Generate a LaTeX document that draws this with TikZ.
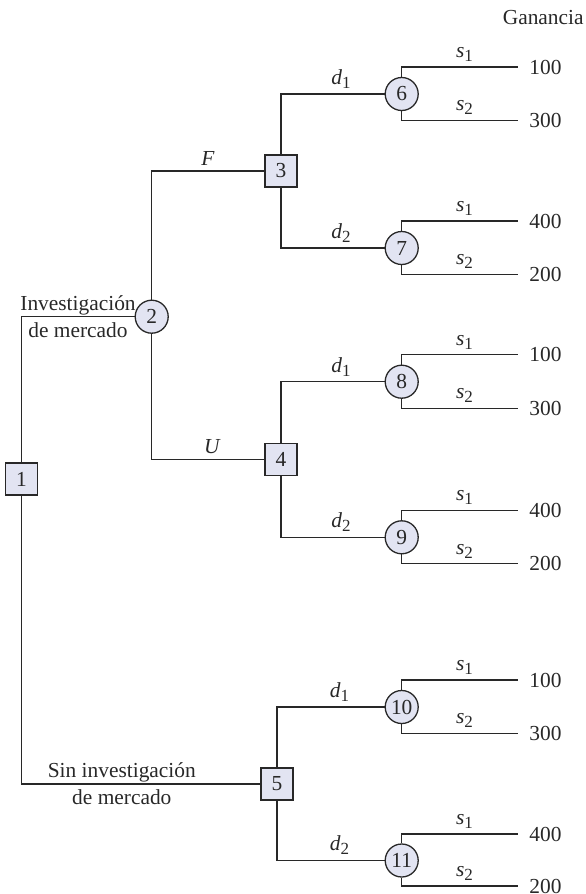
\documentclass[tikz,border=0pt]{standalone}
\usepackage{fontspec}
\setmainfont{Liberation Serif}
\definecolor{nodefill}{RGB}{226,228,242}
\definecolor{linegray}{RGB}{40,40,40}
\newcommand{\ssub}[2]{\textit{#1}\raisebox{-0.4ex}{\fontsize{8.5pt}{9pt}\selectfont #2}}
\begin{document}
\begin{tikzpicture}[
  x=0.5pt, y=-0.5pt,
  every node/.style={font=\fontsize{10.7pt}{13.5pt}\selectfont, text=linegray},
  decision/.style={rectangle, draw=linegray, fill=nodefill, line width=0.65pt, minimum size=16pt, inner sep=0pt},
  chance/.style={circle, draw=linegray, fill=nodefill, line width=0.65pt, minimum size=16.5pt, inner sep=0pt},
  payoff/.style={anchor=west, inner ysep=0pt, inner xsep=5.5pt},
  lbl/.style={above, inner sep=2.5pt},
  branch/.style={draw=linegray, line width=0.65pt},
  ]
 \useasboundingbox (0,0) rectangle (585,894);
 % decision and chance nodes
 \node [decision] (n1) at (21.5,479) {1};
 \node [chance] (n2) at (151.7,316.7) {2};
 \node [decision] (n3) at (281,171) {3};
 \node [decision] (n4) at (281,459.5) {4};
 \node [decision] (n5) at (277,784) {5};
 \node [chance] (n6) at (401.7,94) {6};
 \node [chance] (n7) at (401.7,248) {7};
 \node [chance] (n8) at (401.7,381.7) {8};
 \node [chance] (n9) at (401.7,537.3) {9};
 \node [chance] (n10) at (401.7,707) {10};
 \node [chance] (n11) at (401.7,860.5) {11};
 % payoffs
 \node [anchor=east, inner sep=0pt] (gain) at (584,18) {Ganancia};
 \node [payoff] (p6a) at (518,67) {100};
 \node [payoff] (p6b) at (518,120.5) {300};
 \node [payoff] (p7a) at (518,221) {400};
 \node [payoff] (p7b) at (518,274.5) {200};
 \node [payoff] (p8a) at (518,354.7) {100};
 \node [payoff] (p8b) at (518,408.2) {300};
 \node [payoff] (p9a) at (518,510.3) {400};
 \node [payoff] (p9b) at (518,563.8) {200};
 \node [payoff] (p10a) at (518,680) {100};
 \node [payoff] (p10b) at (518,733.5) {300};
 \node [payoff] (p11a) at (518,834) {400};
 \node [payoff] (p11b) at (518,886) {200};
 % first decision
 \draw [branch] (n1) |- node [pos=0.75, align=center] {Investigación\\de mercado} (n2);
 \draw [branch] (n1) |- node [pos=0.71, align=center] {Sin investigación\\de mercado} (n5);
 \draw [branch] (n2) |- node [pos=0.75, lbl] {\textit{F}} (n3);
 \draw [branch] (n2) |- node [pos=0.77, lbl] {\textit{U}} (n4);
 % decisions d1, d2
 \draw [branch] (n3) |- node [pos=0.79, lbl] {\ssub{d}{1}} (n6);
 \draw [branch] (n3) |- node [pos=0.79, lbl] {\ssub{d}{2}} (n7);
 \draw [branch] (n4) |- node [pos=0.79, lbl] {\ssub{d}{1}} (n8);
 \draw [branch] (n4) |- node [pos=0.79, lbl] {\ssub{d}{2}} (n9);
 \draw [branch] (n5) |- node [pos=0.79, lbl] {\ssub{d}{1}} (n10);
 \draw [branch] (n5) |- node [pos=0.79, lbl] {\ssub{d}{2}} (n11);
 % states s1, s2
 \draw [branch] (n6) |- node [pos=0.77, lbl] {\ssub{s}{1}} (p6a);
 \draw [branch] (n6) |- node [pos=0.77, lbl] {\ssub{s}{2}} (p6b);
 \draw [branch] (n7) |- node [pos=0.77, lbl] {\ssub{s}{1}} (p7a);
 \draw [branch] (n7) |- node [pos=0.77, lbl] {\ssub{s}{2}} (p7b);
 \draw [branch] (n8) |- node [pos=0.77, lbl] {\ssub{s}{1}} (p8a);
 \draw [branch] (n8) |- node [pos=0.77, lbl] {\ssub{s}{2}} (p8b);
 \draw [branch] (n9) |- node [pos=0.77, lbl] {\ssub{s}{1}} (p9a);
 \draw [branch] (n9) |- node [pos=0.77, lbl] {\ssub{s}{2}} (p9b);
 \draw [branch] (n10) |- node [pos=0.77, lbl] {\ssub{s}{1}} (p10a);
 \draw [branch] (n10) |- node [pos=0.77, lbl] {\ssub{s}{2}} (p10b);
 \draw [branch] (n11) |- node [pos=0.77, lbl] {\ssub{s}{1}} (p11a);
 \draw [branch] (n11) |- node [pos=0.77, lbl] {\ssub{s}{2}} (p11b);
\end{tikzpicture}
\end{document}
